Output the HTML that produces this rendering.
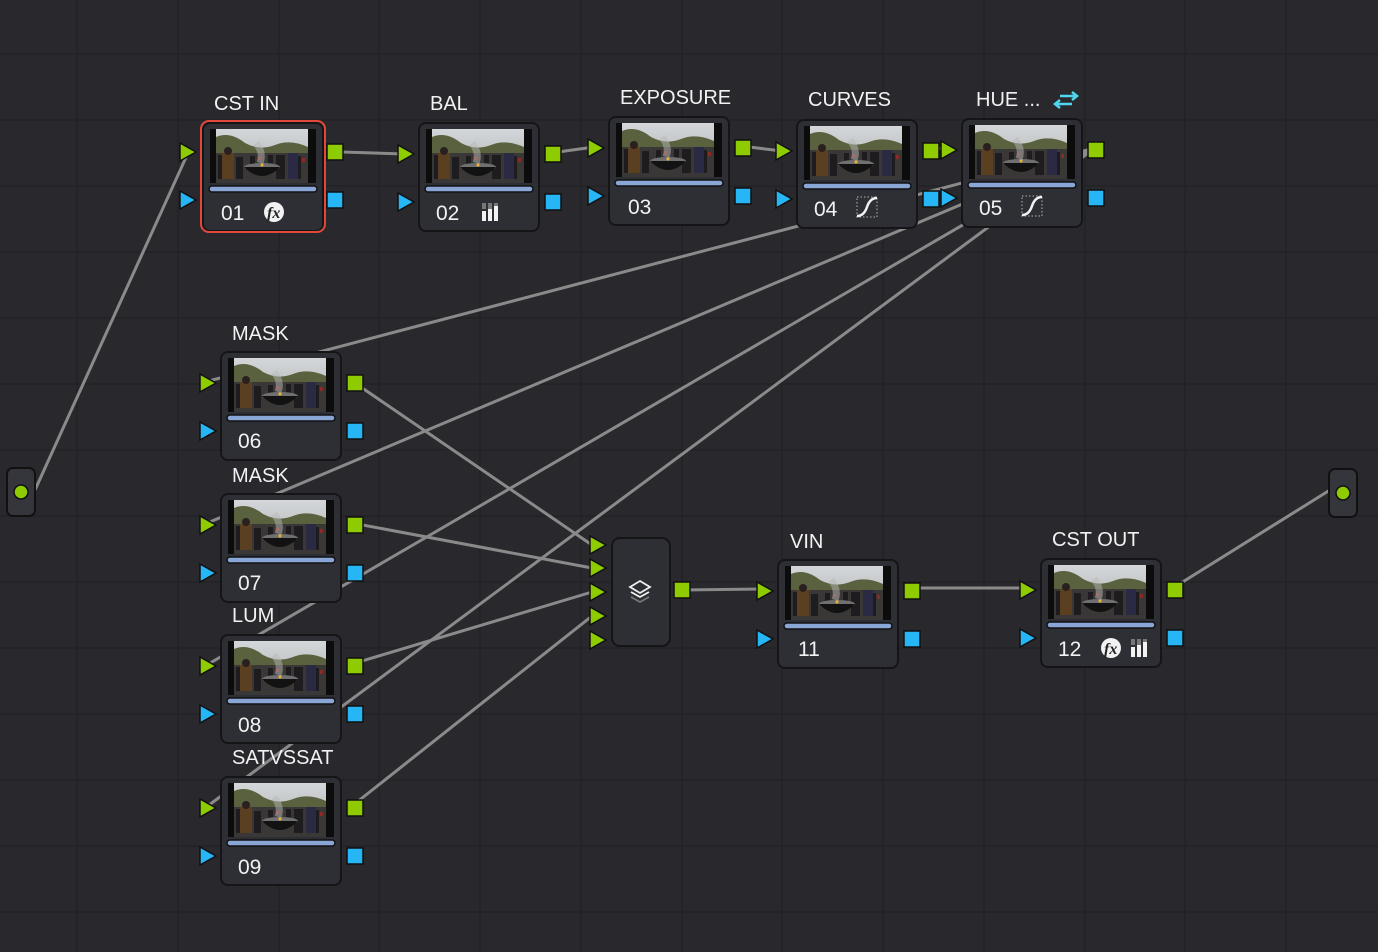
<!DOCTYPE html>
<html><head><meta charset="utf-8"><style>
html,body{margin:0;padding:0;background:#28282d;}
svg{display:block;font-family:"Liberation Sans","DejaVu Sans",sans-serif;}
.lbl{fill:#f2f2f2;font-size:20px;}
.num{fill:#f2f2f2;font-size:21px;}
.ln{stroke:#8a8a8a;stroke-width:3;fill:none;}
</style></head><body>
<svg width="1378" height="952" viewBox="0 0 1378 952" xmlns="http://www.w3.org/2000/svg">
<defs>
<linearGradient id="sky" x1="0" y1="0" x2="0" y2="1"><stop offset="0" stop-color="#d4d7da"/><stop offset="1" stop-color="#aab0ac"/></linearGradient>
<g id="thumb">
 <rect x="0" y="0" width="106" height="54" fill="#0c0c0c"/>
 <rect x="6" y="0" width="92" height="54" fill="url(#sky)"/>
 <path d="M6 8 Q20 2 35 14 Q50 22 65 16 Q80 10 98 18 L98 54 L6 54Z" fill="#59613f"/>
 <path d="M6 24 L98 24 L98 54 L6 54Z" fill="#3a3836"/>
 <g fill="#1e1c1e">
  <rect x="8" y="26" width="8" height="24"/><rect x="26" y="28" width="7" height="22"/><rect x="66" y="26" width="9" height="24"/><rect x="84" y="27" width="7" height="23"/><rect x="40" y="27" width="5" height="12"/><rect x="58" y="26" width="5" height="12"/>
 </g>
 <g fill="#8a2a24"><rect x="20" y="30" width="3" height="4"/><rect x="48" y="28" width="3" height="3"/><rect x="78" y="30" width="3" height="4"/><rect x="92" y="29" width="3" height="4"/></g>
 <ellipse cx="52" cy="38" rx="18" ry="4" fill="#707070"/>
 <path d="M34 38 Q52 56 70 38Z" fill="#121212"/>
 <rect x="12" y="24" width="12" height="26" fill="#5a4020"/>
 <circle cx="18" cy="22" r="4" fill="#2a2020"/>
 <rect x="78" y="24" width="10" height="26" fill="#2a2a44"/>
 <path d="M46 14 Q54 24 50 34" stroke="#b8b8b8" stroke-width="7" fill="none" opacity="0.5"/>
 <circle cx="52" cy="36" r="1.5" fill="#f0b030"/>
</g>
<g id="ports">
 <path d="M-21 22 L-5 31 L-21 40Z" fill="#8ecb00" stroke="#111" stroke-width="1.5"/>
 <path d="M-21 70 L-5 79 L-21 88Z" fill="#26b6f5" stroke="#111" stroke-width="1.5"/>
 <rect x="126" y="23" width="16" height="16" fill="#8ecb00" stroke="#111" stroke-width="1.5"/>
 <rect x="126" y="71" width="16" height="16" fill="#26b6f5" stroke="#111" stroke-width="1.5"/>
</g>
<g id="body">
 <rect x="0" y="0" width="120" height="108" rx="7" fill="#2e2f34" stroke="#151518" stroke-width="2"/>
 <use href="#thumb" x="7" y="6"/>
 <rect x="6" y="63" width="108" height="6" rx="3" fill="#8aa6d6" stroke="#121214" stroke-width="1.5"/>
</g>
<g id="fx">
 <circle cx="0" cy="0" r="10" fill="#f2f2f2"/>
 <text x="-7" y="6" font-size="16" font-style="italic" font-weight="bold" fill="#222" font-family="Liberation Serif,serif">fx</text>
</g>
<g id="bars">
 <rect x="-8" y="-10" width="4" height="6" fill="#777"/><rect x="-2" y="-10" width="4" height="6" fill="#777"/><rect x="4" y="-10" width="4" height="6" fill="#777"/>
 <rect x="-8" y="-2" width="4" height="10" fill="#f2f2f2"/><rect x="-2" y="-4" width="4" height="12" fill="#f2f2f2"/><rect x="4" y="-7" width="4" height="15" fill="#f2f2f2"/>
</g>
<g id="curve">
 <rect x="-10" y="-10" width="20" height="20" fill="none" stroke="#888" stroke-width="1.5" stroke-dasharray="1.5 2"/>
 <path d="M-10 9 Q-3 9 0 0 Q3 -9 10 -9" stroke="#f2f2f2" stroke-width="2.5" fill="none"/>
</g>
</defs>

<g stroke="#222227" stroke-width="1.5">
 <line x1="178" y1="0" x2="178" y2="952"/><line x1="279" y1="0" x2="279" y2="952"/><line x1="379" y1="0" x2="379" y2="952"/><line x1="480" y1="0" x2="480" y2="952"/><line x1="581" y1="0" x2="581" y2="952"/><line x1="682" y1="0" x2="682" y2="952"/><line x1="782" y1="0" x2="782" y2="952"/><line x1="883" y1="0" x2="883" y2="952"/><line x1="984" y1="0" x2="984" y2="952"/><line x1="1085" y1="0" x2="1085" y2="952"/><line x1="1185" y1="0" x2="1185" y2="952"/><line x1="1286" y1="0" x2="1286" y2="952"/><line x1="77" y1="0" x2="77" y2="952"/>
 <line x1="0" y1="54" x2="1378" y2="54"/><line x1="0" y1="120" x2="1378" y2="120"/><line x1="0" y1="186" x2="1378" y2="186"/><line x1="0" y1="252" x2="1378" y2="252"/><line x1="0" y1="318" x2="1378" y2="318"/><line x1="0" y1="384" x2="1378" y2="384"/><line x1="0" y1="450" x2="1378" y2="450"/><line x1="0" y1="516" x2="1378" y2="516"/><line x1="0" y1="582" x2="1378" y2="582"/><line x1="0" y1="648" x2="1378" y2="648"/><line x1="0" y1="714" x2="1378" y2="714"/><line x1="0" y1="780" x2="1378" y2="780"/><line x1="0" y1="846" x2="1378" y2="846"/><line x1="0" y1="912" x2="1378" y2="912"/>
</g>

<g class="ln">
 <line x1="35" y1="490" x2="188" y2="153"/>
 <line x1="342" y1="152" x2="404" y2="154"/>
 <line x1="558" y1="152" x2="594" y2="147"/>
 <line x1="749" y1="147" x2="782" y2="151"/>
 <line x1="937" y1="148" x2="947" y2="149"/>
 <line x1="1095" y1="148" x2="205" y2="382"/>
 <line x1="1095" y1="148" x2="205" y2="524"/>
 <line x1="1095" y1="148" x2="205" y2="666"/>
 <line x1="1095" y1="148" x2="205" y2="808"/>
 <line x1="352" y1="381" x2="592" y2="545"/>
 <line x1="352" y1="523" x2="592" y2="568"/>
 <line x1="352" y1="664" x2="592" y2="592"/>
 <line x1="352" y1="806" x2="592" y2="616"/>
 <line x1="682" y1="590" x2="762" y2="589"/>
 <line x1="910" y1="588" x2="1025" y2="588"/>
 <line x1="1173" y1="588" x2="1330" y2="490"/>
</g>

<rect x="7" y="468" width="28" height="48" rx="6" fill="#35363b" stroke="#111" stroke-width="2"/>
<circle cx="21" cy="492" r="7" fill="#8ecb00" stroke="#111" stroke-width="1.5"/>
<rect x="1329" y="469" width="28" height="48" rx="6" fill="#35363b" stroke="#111" stroke-width="2"/>
<circle cx="1343" cy="493" r="7" fill="#8ecb00" stroke="#111" stroke-width="1.5"/>

<g transform="translate(203,123)"><use href="#body"/><rect x="-2" y="-2" width="124" height="111" rx="8" fill="none" stroke="#e0483c" stroke-width="2"/><use href="#ports" transform="translate(-2,-2)"/><text class="num" x="18" y="97">01</text><use href="#fx" x="71" y="89"/></g>
<text class="lbl" x="214" y="110">CST IN</text>

<g transform="translate(419,123)"><use href="#body"/><use href="#ports"/><text class="num" x="17" y="97">02</text><use href="#bars" x="71" y="90"/></g>
<text class="lbl" x="430" y="110">BAL</text>

<g transform="translate(609,117)"><use href="#body"/><use href="#ports"/><text class="num" x="19" y="97">03</text></g>
<text class="lbl" x="620" y="104">EXPOSURE</text>

<g transform="translate(797,120)"><use href="#body"/><use href="#ports"/><text class="num" x="17" y="96">04</text><use href="#curve" x="70" y="87"/></g>
<text class="lbl" x="808" y="106">CURVES</text>

<g transform="translate(962,119)"><use href="#body"/><use href="#ports"/><text class="num" x="17" y="96">05</text><use href="#curve" x="70" y="87"/></g>
<text class="lbl" x="976" y="106">HUE ...</text>
<g stroke="#4fd6ee" stroke-width="2.5" fill="none"><path d="M1060 96 L1076 96 M1072 92 L1077 96 L1072 100"/><path d="M1072 104 L1056 104 M1060 100 L1055 104 L1060 108"/></g>

<g transform="translate(221,352)"><use href="#body"/><use href="#ports"/><text class="num" x="17" y="96">06</text></g>
<text class="lbl" x="232" y="340">MASK</text>
<g transform="translate(221,494)"><use href="#body"/><use href="#ports"/><text class="num" x="17" y="96">07</text></g>
<text class="lbl" x="232" y="482">MASK</text>
<g transform="translate(221,635)"><use href="#body"/><use href="#ports"/><text class="num" x="17" y="97">08</text></g>
<text class="lbl" x="232" y="622">LUM</text>
<g transform="translate(221,777)"><use href="#body"/><use href="#ports"/><text class="num" x="17" y="97">09</text></g>
<text class="lbl" x="232" y="764">SATVSSAT</text>

<rect x="612" y="538" width="58" height="108" rx="8" fill="#2e2f34" stroke="#151518" stroke-width="2"/>
<g fill="#8ecb00" stroke="#111" stroke-width="1.5">
 <path d="M590 536 L606 545 L590 554Z"/><path d="M590 559 L606 568 L590 577Z"/><path d="M590 583 L606 592 L590 601Z"/><path d="M590 607 L606 616 L590 625Z"/><path d="M590 631 L606 640 L590 649Z"/>
</g>
<g fill="none" stroke="#eee" stroke-width="1.8"><path d="M640 581 L650 587 L640 593 L630 587Z"/><path d="M631 592 L640 597 L649 592"/></g>
<path d="M631 597 L640 602 L649 597" fill="none" stroke="#777" stroke-width="1.8"/>
<rect x="674" y="582" width="16" height="16" fill="#8ecb00" stroke="#111" stroke-width="1.5"/>

<g transform="translate(778,560)"><use href="#body"/><use href="#ports"/><text class="num" x="20" y="96">11</text></g>
<text class="lbl" x="790" y="548">VIN</text>

<g transform="translate(1041,559)"><use href="#body"/><use href="#ports"/><text class="num" x="17" y="97">12</text><use href="#fx" x="70" y="89"/><use href="#bars" x="98" y="90"/></g>
<text class="lbl" x="1052" y="546">CST OUT</text>
</svg>
</body></html>
